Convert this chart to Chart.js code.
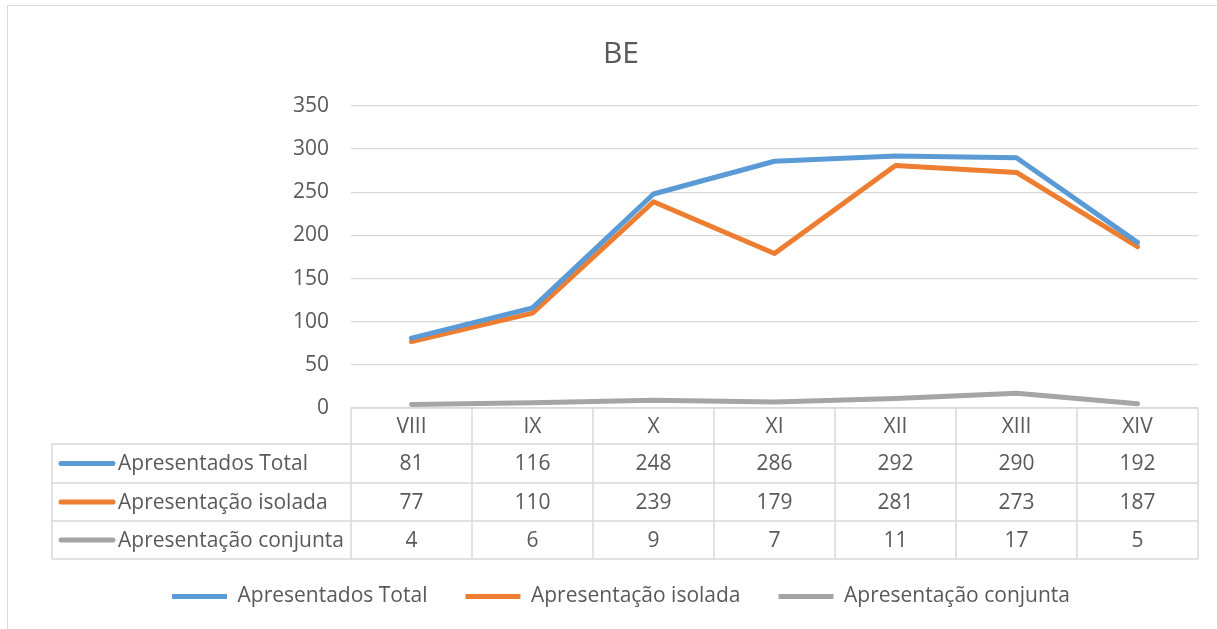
<!DOCTYPE html>
<html>
<head>
<meta charset="utf-8">
<script src="https://cdn.jsdelivr.net/npm/chart.js@4.4.0/dist/chart.umd.min.js"></script>
<style>
  html, body { margin: 0; padding: 0; background: #fff; overflow: hidden; }
  #wrap { position: relative; width: 1217px; height: 629px; }
  #frame { position: absolute; left: 7px; top: 5px; width: 1300px; height: 700px; border: 1px solid #d9d9d9; box-sizing: border-box; }
  #chart { position: absolute; left: 0; top: 0; }
</style>
</head>
<body>
<div id="wrap">
  <div id="frame"></div>
  <canvas id="chart" width="1217" height="629"></canvas>
</div>
<script>
const categories = ["VIII", "IX", "X", "XI", "XII", "XIII", "XIV"];
const apresentadosTotal = [81, 116, 248, 286, 292, 290, 192];
const apresentacaoIsolada = [77, 110, 239, 179, 281, 273, 187];
const apresentacaoConjunta = [4, 6, 9, 7, 11, 17, 5];
const yTicks = [0, 50, 100, 150, 200, 250, 300, 350];

const FONT = "'Open Sans', 'Segoe UI', sans-serif";
const TEXT = "#595959";
const GRID = "#d9d9d9";

// data table under the plot, aligned with the category scale
const dataTable = {
  id: "dataTable",
  beforeDatasetsDraw(chart) {
    const ctx = chart.ctx;
    const xs = chart.scales.x;
    const step = xs.getPixelForValue(1) - xs.getPixelForValue(0);
    const left = xs.getPixelForValue(0) - step / 2;
    const right = xs.getPixelForValue(categories.length - 1) + step / 2;
    const top = chart.chartArea.bottom;
    const rows = [top, top + 36, top + 75, top + 113, top + 151];
    const labelLeft = 52;

    ctx.save();
    ctx.strokeStyle = GRID;
    ctx.lineWidth = 1.5;
    ctx.beginPath();
    ctx.moveTo(left, rows[0]);
    ctx.lineTo(right, rows[0]);
    for (let r = 1; r < rows.length; r++) {
      ctx.moveTo(labelLeft, rows[r]);
      ctx.lineTo(right, rows[r]);
    }
    ctx.moveTo(labelLeft, rows[1]);
    ctx.lineTo(labelLeft, rows[4]);
    for (let i = 0; i <= categories.length; i++) {
      const x = left + i * step;
      ctx.moveTo(x, rows[0]);
      ctx.lineTo(x, rows[4]);
    }
    ctx.stroke();

    ctx.font = "21px " + FONT;
    ctx.textBaseline = "middle";
    chart.data.datasets.forEach((ds, r) => {
      const cy = (rows[r + 1] + rows[r + 2]) / 2;
      ctx.strokeStyle = ds.borderColor;
      ctx.lineWidth = 5;
      ctx.lineCap = "round";
      ctx.beginPath();
      ctx.moveTo(61, cy);
      ctx.lineTo(113, cy);
      ctx.stroke();

      ctx.fillStyle = TEXT;
      ctx.textAlign = "left";
      ctx.fillText(ds.label, 118, cy + 1);
      ctx.textAlign = "center";
      ds.data.forEach((v, i) => {
        ctx.fillText(String(v), xs.getPixelForValue(i), cy + 1);
      });
    });
    ctx.restore();
  },
};

const lineStyle = {
  borderWidth: 5,
  pointRadius: 0,
  pointHoverRadius: 0,
  pointStyle: "line",
  tension: 0,
  borderCapStyle: "round",
  borderJoinStyle: "round",
  fill: false,
};

new Chart(document.getElementById("chart").getContext("2d"), {
  type: "line",
  data: {
    labels: categories,
    datasets: [
      { label: "Apresentados Total", data: apresentadosTotal, borderColor: "#5b9bd5", backgroundColor: "#5b9bd5", ...lineStyle },
      { label: "Apresentação isolada", data: apresentacaoIsolada, borderColor: "#ed7d31", backgroundColor: "#ed7d31", ...lineStyle },
      { label: "Apresentação conjunta", data: apresentacaoConjunta, borderColor: "#a5a5a5", backgroundColor: "#a5a5a5", ...lineStyle },
    ],
  },
  options: {
    responsive: false,
    animation: false,
    layout: { padding: { top: 0, right: 19, bottom: 12, left: 44 } },
    plugins: {
      title: {
        display: true,
        text: "BE",
        color: TEXT,
        font: { family: FONT, size: 30, weight: "normal" },
        padding: { top: 36, bottom: 34 },
      },
      legend: {
        position: "bottom",
        labels: {
          usePointStyle: true,
          pointStyle: "line",
          pointStyleWidth: 55,
          padding: 38,
          color: TEXT,
          font: { family: FONT, size: 21 },
        },
      },
      tooltip: { enabled: false },
    },
    scales: {
      x: {
        offset: true,
        grid: { display: false, drawTicks: false },
        border: { display: false },
        ticks: { color: TEXT, font: { family: FONT, size: 21 }, padding: 6 },
        afterFit(scale) {
          scale.height = 140;
        },
      },
      y: {
        min: yTicks[0],
        max: yTicks[yTicks.length - 1],
        afterBuildTicks(scale) {
          scale.ticks = yTicks.map((v) => ({ value: v }));
        },
        grid: { color: GRID, lineWidth: 1.3, drawTicks: false },
        border: { display: false },
        ticks: { color: TEXT, font: { family: FONT, size: 21 }, padding: 22 },
        afterFit(scale) {
          scale.width = 351 - 44;
        },
      },
    },
  },
  plugins: [dataTable],
});
</script>
</body>
</html>
